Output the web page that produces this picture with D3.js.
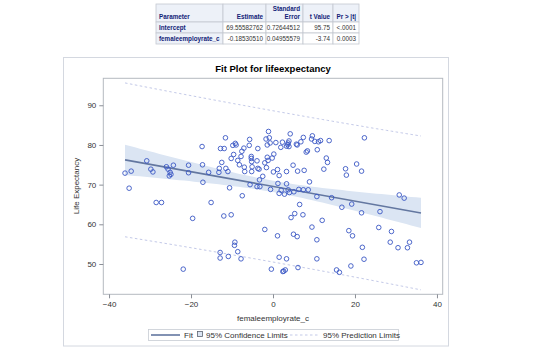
<!DOCTYPE html>
<html><head><meta charset="utf-8">
<script src="https://cdn.jsdelivr.net/npm/d3@7"></script>
<style>
html,body{margin:0;padding:0;background:#ffffff;}
svg{display:block;font-family:"Liberation Sans",Arial,sans-serif;}
</style></head>
<body>
<svg id="c" width="540" height="360"></svg>
<script>
// ---- table data ----
const tableHeaders = ["Parameter", "Estimate", "Standard\nError", "t Value", "Pr > |t|"];
const paramNames = ["Intercept", "femaleemployrate_c"];
const estimates = ["69.55582762", "-0.18530510"];
const stdErrors = ["0.72644512", "0.04955579"];
const tValues = ["95.75", "-3.74"];
const pValues = ["<.0001", "0.0003"];

// ---- fit parameters (from the table) ----
const intercept = 69.55582762;
const slope = -0.18530510;
const seIntercept = 0.72644512;
const seSlope = 0.04955579;
const tCrit = 1.974;
const rmse = 9.63;

// ---- scatter data ----
const xVals = [-36.1,-35.1,-34.6,-30.8,-29.8,-29.3,-28.5,-27.2,-26.0,-25.6,-25.1,-24.9,-25.3,-24.3,-20.6,-20.6,-19.6,-21.9,-17.3,-17.2,-17.1,-15.7,-15.1,-13.1,-13.2,-12.9,-12.9,-12.8,-11.9,-12.5,-11.6,-11.5,-11.0,-12.0,-10.6,-10.9,-10.2,-10.2,-9.6,-9.8,-9.2,-9.0,-8.6,-8.2,-7.8,-7.6,-7.1,-7.0,-6.9,-7.5,-9.4,-9.3,-8.6,-7.8,-5.7,-5.8,-5.3,-5.3,-5.2,-5.1,-5.2,-5.6,-3.9,-3.7,-3.7,-3.4,-3.3,-3.9,-3.2,-2.5,-2.0,-2.0,-1.6,-1.7,-1.4,-1.4,-1.2,-1.1,-0.9,-0.7,-0.6,-0.4,-0.2,0.1,0.2,0.7,1.1,1.1,1.2,1.5,1.5,1.5,1.9,2.3,2.0,2.4,2.6,3.0,2.8,3.3,3.3,3.3,3.6,3.7,3.9,3.9,4.2,3.3,4.0,3.7,4.4,4.9,5.1,5.3,5.0,5.7,5.9,6.0,5.9,6.1,6.3,6.5,6.8,7.4,7.4,7.6,7.3,8.1,8.4,8.6,8.9,9.5,9.6,9.4,10.2,10.8,10.7,10.7,10.7,11.1,11.6,12.0,12.4,13.0,13.3,13.7,14.3,15.5,16.2,16.8,17.7,17.9,18.5,19.0,19.2,19.4,20.4,21.6,21.6,21.8,22.2,22.3,25.8,26.1,28.6,28.9,30.5,30.8,32.0,32.8,33.3,35.0,36.1];
const yVals = [72.9,69.1,73.4,76.0,73.9,73.2,65.5,65.5,74.5,73.9,73.1,72.6,72.2,74.9,74.9,73.0,61.5,48.7,79.6,75.0,70.6,73.1,65.5,74.1,73.1,52.9,51.5,79.1,79.1,75.6,81.8,74.1,73.3,62.1,69.2,51.9,62.4,76.6,77.6,79.9,80.4,80.0,76.1,75.0,77.1,78.4,79.2,74.4,73.3,67.2,54.7,55.5,53.1,51.3,81.4,79.9,77.1,76.6,75.8,74.5,73.3,70.0,76.0,79.1,74.1,73.9,71.2,69.5,69.5,72.1,58.7,75.5,74.3,81.5,80.0,76.9,76.1,83.4,81.8,80.5,68.8,48.7,76.7,73.2,77.7,80.6,57.1,73.8,70.3,72.3,67.8,51.7,79.4,80.7,68.6,48.1,48.2,48.5,67.6,70.2,73.3,79.7,80.1,80.5,79.6,81.0,82.8,51.3,68.0,68.7,61.7,74.9,68.2,62.7,57.5,80.2,80.0,73.4,56.9,49.1,68.8,65.0,80.8,81.9,68.7,73.6,62.4,78.2,78.5,68.7,70.7,59.3,82.3,81.5,80.9,78.8,67.0,56.1,51.3,80.8,81.1,61.0,73.9,76.7,75.6,81.1,66.7,48.5,47.9,64.3,74.0,72.4,58.4,49.5,65.1,57.1,75.2,73.4,62.9,54.2,51.2,81.8,59.2,63.2,55.5,58.2,54.1,67.4,66.6,54.1,55.5,50.3,50.4];

// ---- axis ticks ----
const xTicks = [-40, -20, 0, 20, 40];
const yTicks = [50, 60, 70, 80, 90];

// ---- labels ----
const titleText = "Fit Plot for lifeexpectancy";
const xLabel = "femaleemployrate_c";
const yLabel = "Life Expectancy";
const legendLabels = ["Fit", "95% Confidence Limits", "95% Prediction Limits"];

const svg = d3.select("#c");
const FONT = "'Liberation Sans', Arial, sans-serif";

// ===== Table =====
const colEdges = [156, 223, 266, 303, 333, 359];
const rowEdges = [4, 22, 33, 44];
const hdrBg = "#edf1f8", hdrText = "#112277", border = "#c4c8d0", cellText = "#333333";
const tbl = svg.append("g");
const rowsData = [tableHeaders].concat(paramNames.map((p, i) => [p, estimates[i], stdErrors[i], tValues[i], pValues[i]]));
rowsData.forEach((row, r) => {
  row.forEach((cell, c) => {
    const x0 = colEdges[c], x1 = colEdges[c + 1], y0 = rowEdges[r], y1 = rowEdges[r + 1];
    const isHdr = r === 0 || c === 0;
    tbl.append("rect").attr("x", x0).attr("y", y0).attr("width", x1 - x0).attr("height", y1 - y0)
      .attr("fill", isHdr ? hdrBg : "#ffffff").attr("stroke", border).attr("stroke-width", 0.8);
    const lines = cell.split("\n");
    const anchor = c === 0 ? "start" : "end";
    const tx = c === 0 ? x0 + 3 : x1 - 3;
    lines.forEach((ln, k) => {
      tbl.append("text").attr("x", tx).attr("y", y1 - 3.5 - (lines.length - 1 - k) * 7.5)
        .attr("text-anchor", anchor).attr("font-size", 6.3)
        .attr("font-weight", isHdr ? "bold" : "normal")
        .attr("fill", isHdr ? hdrText : cellText).text(ln);
    });
  });
});

// ===== Graph panel =====
svg.append("rect").attr("x", 63.5).attr("y", 57.5).attr("width", 385).attr("height", 288.5)
  .attr("fill", "#ffffff").attr("stroke", "#d4d8e0").attr("stroke-width", 1);

const plotL = 103.3, plotR = 442.7, plotT = 78.3, plotB = 294.3;
const x = d3.scaleLinear().domain([-41.4, 41.4]).range([plotL, plotR]);
const y = d3.scaleLinear().domain([42.36, 96.8]).range([plotB, plotT]);

svg.append("text").attr("x", 273).attr("y", 72).attr("text-anchor", "middle")
  .attr("font-size", 9.5).attr("font-weight", "bold").attr("fill", "#000").text(titleText);

const plot = svg.append("g");
const xMin = d3.min(xVals), xMax = d3.max(xVals);
const grid = d3.range(0, 61).map(i => xMin + (xMax - xMin) * i / 60);
const fitAt = v => intercept + slope * v;
const seFit = v => Math.sqrt(seIntercept * seIntercept + v * v * seSlope * seSlope);

// confidence band
plot.append("path").datum(grid)
  .attr("d", d3.area().x(d => x(d)).y0(d => y(fitAt(d) - tCrit * seFit(d))).y1(d => y(fitAt(d) + tCrit * seFit(d))))
  .attr("fill", "#dbe5f3").attr("stroke", "none");

// prediction limits
const predHalf = v => tCrit * Math.sqrt(rmse * rmse + seFit(v) * seFit(v));
[1, -1].forEach(s => {
  plot.append("path").datum(grid)
    .attr("d", d3.line().x(d => x(d)).y(d => y(fitAt(d) + s * predHalf(d))))
    .attr("fill", "none").attr("stroke", "#c3c9e8").attr("stroke-width", 1).attr("stroke-dasharray", "2.5,2.5");
});

// fit line
plot.append("path").datum([xMin, xMax])
  .attr("d", d3.line().x(d => x(d)).y(d => y(fitAt(d))))
  .attr("fill", "none").attr("stroke", "#6377a0").attr("stroke-width", 1.6);

// points
plot.selectAll("circle").data(xVals.map((v, i) => [v, yVals[i]])).enter().append("circle")
  .attr("cx", d => x(d[0])).attr("cy", d => y(d[1])).attr("r", 2.3)
  .attr("fill", "none").attr("stroke", "#3a57c4").attr("stroke-width", 0.9);

// frame
svg.append("rect").attr("x", plotL).attr("y", plotT).attr("width", plotR - plotL).attr("height", plotB - plotT)
  .attr("fill", "none").attr("stroke", "#b5b9c0").attr("stroke-width", 1);

// axes
const xAxis = svg.append("g").attr("transform", `translate(0,${plotB})`)
  .call(d3.axisBottom(x).tickValues(xTicks).tickSize(4).tickPadding(3).tickFormat(d3.format("d")));
const yAxis = svg.append("g").attr("transform", `translate(${plotL},0)`)
  .call(d3.axisLeft(y).tickValues(yTicks).tickSize(4).tickPadding(3).tickFormat(d3.format("d")));
[xAxis, yAxis].forEach(a => {
  a.select(".domain").remove();
  a.selectAll("line").attr("stroke", "#8a8e96");
  a.selectAll("text").attr("font-size", 8).attr("fill", "#333").attr("font-family", FONT);
});

svg.append("text").attr("x", 273).attr("y", 321).attr("text-anchor", "middle")
  .attr("font-size", 8).attr("fill", "#333").text(xLabel);
svg.append("text").attr("transform", "translate(79,186) rotate(-90)").attr("text-anchor", "middle")
  .attr("font-size", 8).attr("fill", "#333").text(yLabel);

// legend
const lg = svg.append("g");
lg.append("rect").attr("x", 148.5).attr("y", 329.5).attr("width", 250).attr("height", 11)
  .attr("fill", "#fff").attr("stroke", "#c8ccd4").attr("stroke-width", 0.8);
lg.append("line").attr("x1", 151).attr("x2", 180).attr("y1", 335).attr("y2", 335)
  .attr("stroke", "#6377a0").attr("stroke-width", 1.6);
lg.append("text").attr("x", 184).attr("y", 338).attr("font-size", 8).attr("fill", "#333").text(legendLabels[0]);
lg.append("rect").attr("x", 197.5).attr("y", 331.5).attr("width", 5).attr("height", 5)
  .attr("fill", "#dbe5f3").attr("stroke", "#5c6470").attr("stroke-width", 0.8);
lg.append("text").attr("x", 206).attr("y", 338).attr("font-size", 8).attr("fill", "#333").text(legendLabels[1]);
lg.append("line").attr("x1", 290).attr("x2", 320).attr("y1", 335).attr("y2", 335)
  .attr("stroke", "#c3c9e8").attr("stroke-width", 1).attr("stroke-dasharray", "2.5,2.5");
lg.append("text").attr("x", 323).attr("y", 338).attr("font-size", 8).attr("fill", "#333").text(legendLabels[2]);
</script>
</body></html>
